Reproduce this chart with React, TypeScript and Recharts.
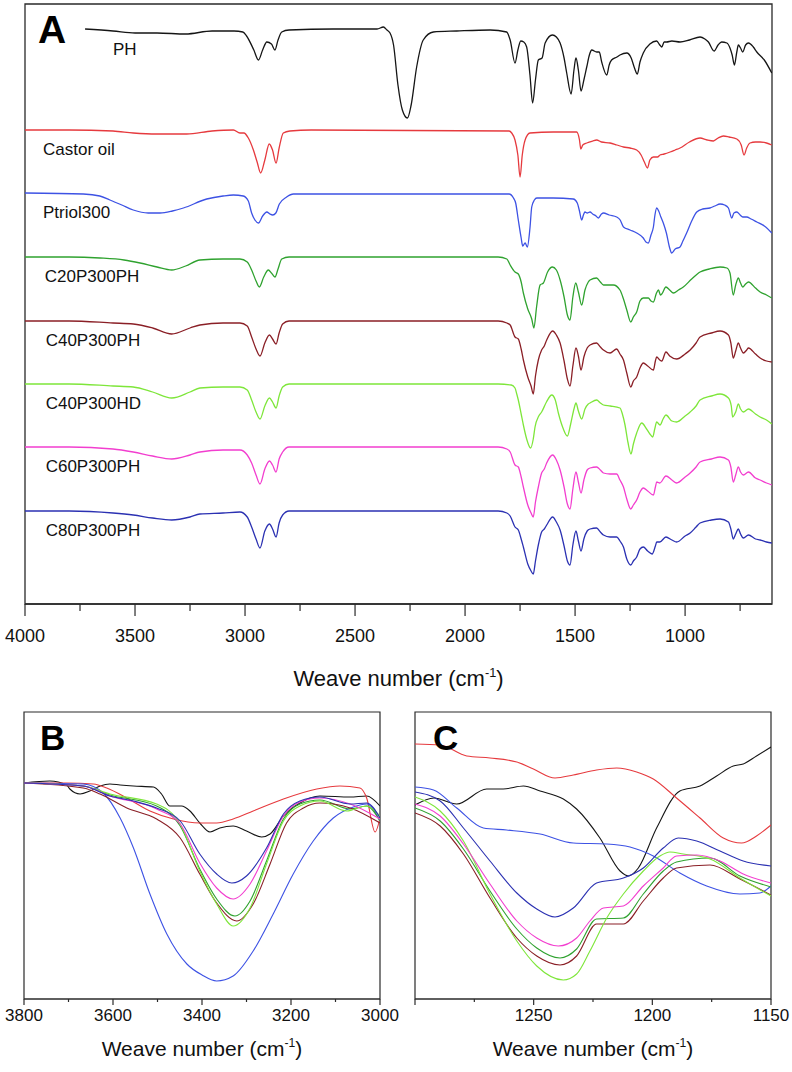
import React from "react"
import { LineChart, Line, XAxis, YAxis, ReferenceArea, ReferenceDot } from "recharts"

// sample names / colours (same order in every panel)
const names = ["PH", "Castor oil", "Ptriol300", "C20P300PH", "C40P300PH", "C40P300HD", "C60P300PH", "C80P300PH"]
const colors = ["#151515", "#e63a3e", "#3d52e4", "#2fa22f", "#8a1f26", "#7ee63a", "#f23ecf", "#2b31b2"]

// panel A: vertical offset of each trace (a.u.)
const offsetsA = [574, 474, 411, 347, 283, 220, 157, 93]
const labelWnA = [3600, 3918, 3918, 3910, 3906, 3906, 3906, 3906]

// panel A spectra: [wavenumber, relative transmittance]
const phA = [[3727,1],[3600,-1],[3500,-3],[3400,-3],[3270,-4],[3150,-1],[3050,-1],[3010,-2],[2993,-6],[2960,-20],[2939,-30],[2920,-20],[2901,-12],[2880,-14],[2864,-20],[2850,-10],[2833,-2],[2800,0],[2600,1],[2400,1],[2371,3],[2355,0],[2341,-3],[2325,-15],[2305,-55],[2285,-80],[2262,-88],[2245,-75],[2220,-37],[2190,-10],[2144,-2],[2038,-1],[1886,0],[1811,-2],[1795,-10],[1773,-33],[1760,-20],[1747,-11],[1733,-12],[1720,-17],[1705,-45],[1693,-73],[1680,-50],[1667,-30],[1650,-28],[1636,-13],[1603,-5],[1585,-7],[1568,-13],[1550,-28],[1538,-43],[1518,-64],[1505,-40],[1496,-28],[1485,-40],[1473,-61],[1460,-50],[1447,-37],[1435,-25],[1424,-20],[1402,-22],[1390,-22],[1379,-32],[1356,-45],[1345,-35],[1334,-30],[1310,-27],[1296,-25],[1265,-23],[1245,-28],[1230,-38],[1217,-44],[1205,-32],[1190,-23],[1160,-14],[1129,-11],[1115,-15],[1106,-17],[1095,-12],[1084,-12],[1060,-11],[1023,-12],[980,-10],[932,-7],[910,-9],[894,-12],[868,-21],[850,-15],[834,-12],[810,-13],[796,-18],[786,-25],[776,-35],[765,-22],[758,-15],[748,-18],[738,-22],[725,-15],[712,-13],[690,-17],[674,-22],[640,-30],[606,-43]]
const castorA = [[4000,0],[3800,0],[3600,-1],[3508,-3],[3400,-4],[3265,-4],[3150,-1],[3053,0],[3023,-3],[3005,-3],[2985,-8],[2962,-20],[2945,-32],[2929,-43],[2910,-30],[2890,-14],[2875,-20],[2859,-33],[2845,-18],[2826,-3],[2796,-1],[2700,0],[1800,-1],[1788,-3],[1773,-10],[1760,-25],[1750,-47],[1740,-25],[1727,-10],[1705,-3],[1600,-2],[1493,-2],[1480,-10],[1474,-19],[1465,-15],[1447,-13],[1420,-11],[1402,-10],[1380,-12],[1341,-13],[1310,-15],[1280,-17],[1250,-18],[1220,-20],[1200,-25],[1185,-32],[1171,-38],[1160,-30],[1144,-27],[1125,-27],[1114,-25],[1095,-24],[1068,-22],[1045,-20],[1023,-18],[980,-12],[932,-8],[900,-10],[871,-11],[850,-8],[826,-6],[800,-7],[765,-9],[745,-15],[732,-25],[720,-18],[705,-13],[680,-12],[659,-12],[630,-13],[606,-15]]
const ptriolA = [[4000,0],[3735,-1],[3660,-3],[3614,-7],[3560,-12],[3508,-17],[3440,-20],[3386,-20],[3330,-18],[3280,-15],[3174,-6],[3100,-3],[3053,-2],[3008,-3],[2985,-8],[2970,-20],[2955,-27],[2939,-30],[2920,-23],[2901,-19],[2887,-21],[2874,-22],[2860,-20],[2844,-11],[2811,-4],[2780,-1],[2700,-1],[1800,-1],[1780,-5],[1770,-10],[1758,-27],[1745,-45],[1738,-53],[1727,-50],[1717,-54],[1705,-35],[1697,-14],[1685,-7],[1674,-5],[1600,-5],[1508,-6],[1490,-10],[1480,-18],[1470,-27],[1462,-22],[1455,-19],[1445,-20],[1432,-19],[1420,-21],[1405,-23],[1394,-25],[1380,-21],[1371,-20],[1345,-22],[1311,-24],[1295,-27],[1280,-34],[1250,-37],[1220,-40],[1190,-45],[1178,-49],[1167,-50],[1155,-42],[1144,-34],[1137,-22],[1129,-15],[1120,-18],[1110,-24],[1099,-30],[1085,-40],[1070,-55],[1061,-60],[1045,-56],[1023,-54],[1010,-48],[993,-40],[970,-28],[947,-19],[920,-16],[887,-15],[865,-13],[841,-11],[820,-12],[803,-15],[788,-25],[778,-20],[765,-19],[750,-22],[738,-24],[720,-24],[700,-26],[674,-29],[640,-33],[606,-40]]
const c20A = [[4000,0],[3800,0],[3659,-1],[3550,-3],[3477,-6],[3400,-10],[3333,-13],[3270,-9],[3205,-3],[3100,-2],[3023,-2],[2990,-5],[2970,-13],[2950,-24],[2935,-30],[2915,-20],[2894,-13],[2880,-16],[2864,-20],[2850,-12],[2833,-2],[2800,0],[1850,0],[1810,-2],[1795,-8],[1773,-15],[1758,-17],[1745,-25],[1735,-36],[1715,-52],[1697,-62],[1687,-71],[1675,-50],[1659,-28],[1644,-26],[1625,-15],[1603,-10],[1585,-13],[1568,-23],[1550,-40],[1535,-58],[1523,-63],[1510,-40],[1497,-26],[1485,-35],[1470,-48],[1455,-33],[1440,-25],[1432,-23],[1402,-21],[1385,-25],[1371,-28],[1340,-28],[1326,-28],[1296,-33],[1280,-42],[1265,-53],[1247,-65],[1235,-60],[1220,-55],[1205,-44],[1190,-41],[1167,-41],[1155,-44],[1144,-45],[1130,-36],[1121,-33],[1112,-38],[1106,-37],[1087,-30],[1070,-33],[1053,-36],[1030,-33],[1008,-30],[970,-22],[932,-15],[890,-12],[841,-10],[810,-11],[796,-16],[781,-38],[770,-28],[758,-21],[748,-26],[738,-30],[725,-27],[712,-25],[680,-31],[659,-35],[630,-38],[606,-41]]
const c40phA = [[4000,0],[3800,0],[3600,-2],[3508,-3],[3420,-7],[3333,-13],[3250,-7],[3205,-4],[3100,-2],[3023,-2],[2990,-5],[2970,-16],[2950,-28],[2932,-35],[2910,-22],[2889,-14],[2875,-18],[2859,-23],[2845,-12],[2829,-3],[2800,0],[1850,0],[1810,-2],[1795,-4],[1773,-16],[1758,-18],[1745,-28],[1735,-39],[1715,-56],[1700,-65],[1690,-73],[1680,-55],[1667,-39],[1652,-29],[1640,-25],[1629,-19],[1602,-10],[1585,-14],[1568,-22],[1550,-40],[1535,-58],[1523,-65],[1510,-45],[1496,-27],[1485,-35],[1473,-49],[1460,-36],[1445,-27],[1432,-24],[1402,-22],[1385,-26],[1371,-29],[1341,-32],[1311,-28],[1296,-33],[1280,-39],[1265,-52],[1247,-66],[1235,-60],[1220,-56],[1205,-47],[1190,-42],[1170,-45],[1144,-49],[1135,-40],[1129,-36],[1115,-39],[1106,-40],[1087,-31],[1070,-35],[1038,-38],[1000,-33],[977,-29],[950,-22],[932,-16],[880,-12],[841,-10],[803,-14],[792,-22],[781,-37],[770,-30],[758,-22],[748,-27],[735,-32],[720,-29],[712,-27],[680,-33],[659,-37],[630,-40],[606,-41]]
const c40hdA = [[4000,0],[3800,0],[3600,-2],[3508,-3],[3420,-8],[3333,-14],[3250,-8],[3205,-4],[3100,-3],[3023,-3],[2990,-6],[2970,-16],[2950,-28],[2932,-35],[2910,-22],[2889,-14],[2875,-18],[2859,-24],[2845,-12],[2829,-3],[2800,0],[1850,0],[1790,-1],[1773,-4],[1765,-10],[1758,-16],[1745,-30],[1735,-41],[1720,-55],[1702,-64],[1690,-55],[1682,-43],[1665,-32],[1652,-28],[1630,-18],[1606,-11],[1590,-16],[1576,-29],[1555,-44],[1535,-52],[1520,-40],[1505,-25],[1496,-19],[1485,-27],[1470,-35],[1455,-25],[1440,-20],[1432,-19],[1402,-16],[1385,-19],[1371,-21],[1340,-22],[1296,-24],[1285,-30],[1273,-41],[1260,-58],[1246,-70],[1235,-60],[1220,-49],[1197,-39],[1175,-45],[1160,-50],[1147,-53],[1138,-45],[1129,-38],[1114,-41],[1100,-35],[1087,-31],[1060,-37],[1038,-38],[1000,-32],[977,-28],[950,-22],[932,-16],[880,-12],[841,-10],[803,-14],[790,-22],[784,-33],[770,-28],[758,-20],[748,-25],[735,-28],[712,-25],[680,-30],[659,-33],[630,-36],[606,-40]]
const c60A = [[4000,0],[3800,0],[3600,-2],[3508,-5],[3420,-9],[3333,-12],[3250,-8],[3205,-5],[3100,-3],[3023,-3],[2990,-8],[2970,-16],[2950,-28],[2932,-37],[2910,-22],[2889,-14],[2875,-18],[2859,-25],[2845,-12],[2829,-5],[2800,0],[1850,0],[1810,-2],[1795,-5],[1773,-18],[1758,-20],[1745,-30],[1735,-40],[1715,-58],[1700,-66],[1690,-70],[1680,-55],[1667,-40],[1652,-26],[1640,-22],[1629,-16],[1602,-8],[1585,-13],[1568,-23],[1550,-40],[1535,-57],[1523,-62],[1510,-42],[1496,-25],[1485,-35],[1473,-46],[1460,-33],[1445,-23],[1432,-21],[1402,-20],[1385,-23],[1371,-26],[1341,-27],[1311,-27],[1296,-33],[1280,-40],[1265,-52],[1247,-62],[1235,-58],[1220,-53],[1205,-45],[1190,-41],[1170,-44],[1144,-48],[1135,-40],[1129,-35],[1115,-36],[1087,-29],[1060,-33],[1038,-36],[1000,-30],[977,-26],[950,-20],[932,-15],[880,-12],[841,-10],[803,-13],[792,-20],[781,-35],[770,-28],[758,-20],[748,-25],[735,-28],[712,-25],[680,-31],[659,-33],[630,-36],[606,-38]]
const c80A = [[4000,0],[3800,0],[3600,-2],[3508,-4],[3420,-7],[3333,-9],[3250,-6],[3205,-3],[3100,-2],[3023,-1],[2990,-6],[2970,-16],[2950,-28],[2932,-37],[2910,-20],[2889,-13],[2875,-18],[2859,-26],[2845,-12],[2829,-4],[2800,0],[1850,0],[1810,-2],[1795,-5],[1773,-16],[1758,-19],[1745,-28],[1735,-36],[1715,-53],[1700,-60],[1690,-63],[1680,-50],[1667,-34],[1652,-21],[1640,-18],[1629,-14],[1602,-6],[1585,-11],[1568,-19],[1550,-35],[1535,-50],[1523,-54],[1510,-34],[1496,-20],[1485,-30],[1473,-40],[1460,-28],[1445,-20],[1432,-18],[1402,-17],[1385,-21],[1371,-24],[1341,-26],[1311,-26],[1296,-30],[1280,-36],[1265,-48],[1247,-54],[1235,-50],[1220,-46],[1205,-38],[1190,-36],[1170,-40],[1150,-43],[1135,-35],[1129,-31],[1115,-31],[1087,-26],[1060,-29],[1038,-31],[1000,-25],[977,-22],[950,-16],[932,-12],[880,-9],[841,-8],[803,-11],[792,-18],[781,-28],[770,-23],[758,-18],[748,-23],[735,-27],[712,-24],[680,-28],[659,-29],[630,-31],[606,-32]]

// panel B (3800-3000 cm-1): [wavenumber, transmittance a.u.]
const phB = [[3800,216],[3742,218],[3704,214],[3697,210],[3674,205],[3652,208],[3629,213],[3607,215],[3584,214],[3554,213],[3509,212],[3491,205],[3472,193],[3446,193],[3427,188],[3405,176],[3382,167],[3360,171],[3330,173],[3300,168],[3266,162],[3247,165],[3217,183],[3180,196],[3135,203],[3067,202],[3030,203],[3000,193]]
const castorB = [[3800,216],[3704,216],[3644,215],[3614,211],[3569,201],[3517,188],[3464,180],[3405,176],[3367,176],[3330,180],[3285,188],[3217,200],[3142,210],[3090,213],[3045,211],[3030,201],[3011,167],[3000,181]]
const ptriolB = [[3800,216],[3667,215],[3622,206],[3584,181],[3554,151],[3517,105],[3479,65],[3434,35],[3400,24],[3367,18],[3330,23],[3285,48],[3240,85],[3195,125],[3150,158],[3105,181],[3060,192],[3030,195],[3000,178]]
const c20B = [[3800,216],[3667,213],[3607,204],[3502,193],[3449,173],[3405,130],[3367,100],[3326,83],[3292,98],[3255,138],[3217,180],[3180,195],[3135,199],[3067,190],[3030,193],[3000,178]]
const c40phB = [[3800,216],[3667,211],[3629,205],[3569,191],[3502,180],[3449,161],[3405,125],[3367,96],[3322,78],[3285,95],[3247,135],[3210,176],[3172,191],[3135,196],[3067,191],[3000,176]]
const c40hdB = [[3800,216],[3667,213],[3607,205],[3502,195],[3449,175],[3405,128],[3367,95],[3330,73],[3292,91],[3255,135],[3217,178],[3180,193],[3135,198],[3075,188],[3030,193],[3000,183]]
const c60B = [[3800,216],[3667,213],[3607,203],[3502,190],[3449,175],[3405,136],[3367,111],[3330,100],[3292,115],[3255,148],[3217,183],[3180,197],[3135,201],[3067,195],[3000,180]]
const c80B = [[3800,216],[3667,213],[3607,203],[3554,198],[3502,191],[3449,178],[3405,145],[3367,125],[3333,116],[3300,123],[3255,151],[3217,185],[3180,198],[3135,202],[3067,195],[3030,196],[3000,181]]

// panel C (1300-1150 cm-1)
const phC = [[1300,194],[1292,201],[1282.4,195],[1269.8,210],[1262.8,210],[1254.3,213],[1247.3,208],[1237.5,200],[1231.9,190],[1222.1,161],[1213.6,128],[1210.1,123],[1205.9,131],[1198.2,171],[1188.4,208],[1179.9,213],[1172.9,223],[1165.9,233],[1161.7,235],[1156.1,243],[1150,252]]
const castorC = [[1300,255],[1289.4,254],[1278.2,243],[1268.4,241],[1257.1,237],[1250.1,230],[1241,221],[1233.3,224],[1223.5,229],[1215,231],[1206.6,227],[1199.6,220],[1189.8,201],[1179.9,181],[1170.1,161],[1162.4,156],[1156.1,163],[1150,174]]
const ptriolC = [[1300,212],[1292.2,209],[1282.4,191],[1271.2,171],[1261.4,169],[1247.3,165],[1233.3,156],[1219.2,155],[1209.4,152],[1199.6,143],[1188.4,126],[1177.1,113],[1163.1,105],[1154.7,106],[1150,113]]
const c20C = [[1300,191],[1289.4,178],[1279.6,150],[1268.4,108],[1257.1,70],[1248.7,51],[1238.9,41],[1231.9,50],[1223.5,80],[1212.2,81],[1203.8,105],[1195.4,128],[1189.8,137],[1175.7,141],[1163.1,123],[1150,112]]
const c40phC = [[1300,186],[1289.4,173],[1279.6,145],[1268.4,101],[1257.1,61],[1248.7,43],[1238.9,34],[1231.9,43],[1223.5,75],[1212.2,75],[1203.8,98],[1195.4,121],[1189.8,131],[1175.7,134],[1163.1,120],[1150,104]]
const c40hdC = [[1300,202],[1289.4,188],[1279.6,158],[1268.4,105],[1257.1,58],[1248.7,33],[1237.5,19],[1231.9,25],[1226.3,48],[1219.2,81],[1212.2,105],[1203.8,128],[1196.8,143],[1192.6,147],[1187,145],[1175.7,140],[1163.1,121],[1150,103]]
const c60C = [[1300,195],[1289.4,183],[1279.6,155],[1268.4,115],[1257.1,78],[1248.7,61],[1239.6,53],[1231.9,61],[1226.3,78],[1220.6,91],[1212.2,93],[1203.8,113],[1195.4,131],[1189.8,143],[1181.3,144],[1171.5,138],[1161.7,125],[1150,116]]
const c80C = [[1300,207],[1289.4,198],[1279.6,171],[1268.4,138],[1257.1,106],[1248.7,90],[1241,82],[1233.3,91],[1223.5,116],[1212.2,121],[1203.8,131],[1195.4,151],[1189.1,161],[1181.3,158],[1171.5,148],[1161.7,138],[1150,133]]

const ticksA = [4000, 3750, 3500, 3250, 3000, 2750, 2500, 2250, 2000, 1750, 1500, 1250, 1000, 750]
const ticksB = [3800, 3700, 3600, 3500, 3400, 3300, 3200, 3100, 3000]
const ticksC = [1300, 1275, 1250, 1225, 1200, 1175, 1150]

const spectraA = [phA, castorA, ptriolA, c20A, c40phA, c40hdA, c60A, c80A]
const spectraB = [phB, castorB, ptriolB, c20B, c40phB, c40hdB, c60B, c80B]
const spectraC = [phC, castorC, ptriolC, c20C, c40phC, c40hdC, c60C, c80C]

const FONT = "'Liberation Sans', Arial, Helvetica, sans-serif"
const AXIS = "#2a2a2a"

const toRows = (pts: number[][], shift = 0) => pts.map(([x, y]) => ({ x, y: y + shift }))

function makeTick(step: number, majorLen: number, minorLen: number, fontSize: number, dy: number, skip: number[] = []) {
  return (props: any) => {
    const { x, y, payload } = props
    const v = payload.value
    const major = Math.abs(v % step) < 1e-6
    return (
      <g>
        <line x1={x} x2={x} y1={y} y2={y + (major ? majorLen : minorLen)} stroke={AXIS} strokeWidth={1.2} />
        {major && !skip.includes(v) && (
          <text x={x} y={y + dy} textAnchor="middle" fontSize={fontSize} fontFamily={FONT} fill="#111">
            {v}
          </text>
        )}
      </g>
    )
  }
}

function axisTitle(dy: number, size: number) {
  return (p: any) => {
    const vb = p.viewBox || { x: 0, y: 0, width: 0 }
    return (
      <text x={vb.x + vb.width / 2} y={vb.y + dy} textAnchor="middle" fontSize={size} fontFamily={FONT} fill="#111">
        Weave number (cm
        <tspan dy={-size * 0.42} fontSize={size * 0.58}>-1</tspan>
        <tspan dy={size * 0.42}>)</tspan>
      </text>
    )
  }
}

const letter = (ch: string, size: number) => (p: any) => (
  <text x={p.cx} y={p.cy} fontSize={size} fontWeight="bold" fontFamily={FONT} fill="#000">
    {ch}
  </text>
)

function PanelA() {
  return (
    <LineChart width={792} height={700} margin={{ top: 4, right: 20, bottom: 0, left: 25 }}>
      <XAxis
        type="number"
        dataKey="x"
        domain={[605, 4000]}
        reversed
        allowDataOverflow
        ticks={ticksA}
        interval={0}
        tickSize={0}
        tickMargin={0}
        tickLine={false}
        tick={makeTick(500, 12, 7, 18, 38)}
        axisLine={{ stroke: AXIS, strokeWidth: 1.3 }}
        height={96}
        label={{ content: axisTitle(82, 22) }}
      />
      <YAxis hide type="number" domain={[0, 600]} allowDataOverflow />
      <ReferenceArea x1={4000} x2={605} y1={0} y2={600} fill="none" stroke={AXIS} strokeWidth={1.3} />
      {spectraA.map((pts, i) => (
        <Line
          key={names[i]}
          data={toRows(pts, offsetsA[i])}
          dataKey="y"
          type="monotone"
          stroke={colors[i]}
          strokeWidth={1.3}
          dot={false}
          isAnimationActive={false}
        />
      ))}
      {names.map((n, i) => (
        <ReferenceDot
          key={"lbl" + n}
          x={labelWnA[i]}
          y={offsetsA[i] - 25}
          r={0}
          shape={(p: any) => (
            <text x={p.cx} y={p.cy} fontSize={17} fontFamily={FONT} fill="#111">
              {n}
            </text>
          )}
        />
      ))}
      <ReferenceDot x={3941} y={561} r={0} shape={letter("A", 39)} />
    </LineChart>
  )
}

function ZoomPanel(props: {
  spectra: number[][][]
  domain: [number, number]
  ticks: number[]
  step: number
  skip: number[]
  width: number
  margin: { top: number; right: number; bottom: number; left: number }
  tag: string
  tagX: number
}) {
  const { spectra, domain, ticks, step, skip, width, margin, tag, tagX } = props
  return (
    <LineChart width={width} height={372} margin={margin}>
      <XAxis
        type="number"
        dataKey="x"
        domain={domain}
        reversed
        allowDataOverflow
        ticks={ticks}
        interval={0}
        tickSize={0}
        tickMargin={0}
        tickLine={false}
        tick={makeTick(step, 6, 3, 17, 22, skip)}
        axisLine={{ stroke: AXIS, strokeWidth: 1.2 }}
        height={73}
        label={{ content: axisTitle(57, 21) }}
      />
      <YAxis hide type="number" domain={[0, 287]} allowDataOverflow />
      <ReferenceArea x1={domain[1]} x2={domain[0]} y1={0} y2={287} fill="none" stroke={AXIS} strokeWidth={1.2} />
      {spectra.map((pts, i) => (
        <Line
          key={names[i]}
          data={toRows(pts)}
          dataKey="y"
          type="monotone"
          stroke={colors[i]}
          strokeWidth={1.1}
          dot={false}
          isAnimationActive={false}
        />
      ))}
      <ReferenceDot x={tagX} y={249} r={0} shape={letter(tag, 35)} />
    </LineChart>
  )
}

export default function App() {
  return (
    <div style={{ position: "absolute", left: 0, top: 0, width: 792, height: 1072, background: "#fff" }}>
      <div style={{ position: "absolute", left: 0, top: 0 }}>
        <PanelA />
      </div>
      <div style={{ position: "absolute", left: 0, top: 700 }}>
        <ZoomPanel
          spectra={spectraB}
          domain={[3000, 3800]}
          ticks={ticksB}
          step={200}
          skip={[]}
          width={430}
          margin={{ top: 12, right: 50, bottom: 0, left: 24 }}
          tag="B"
          tagX={3764}
        />
      </div>
      <div style={{ position: "absolute", left: 396, top: 700 }}>
        <ZoomPanel
          spectra={spectraC}
          domain={[1150, 1300]}
          ticks={ticksC}
          step={50}
          skip={[1300]}
          width={396}
          margin={{ top: 12, right: 21, bottom: 0, left: 19 }}
          tag="C"
          tagX={1292.4}
        />
      </div>
    </div>
  )
}
